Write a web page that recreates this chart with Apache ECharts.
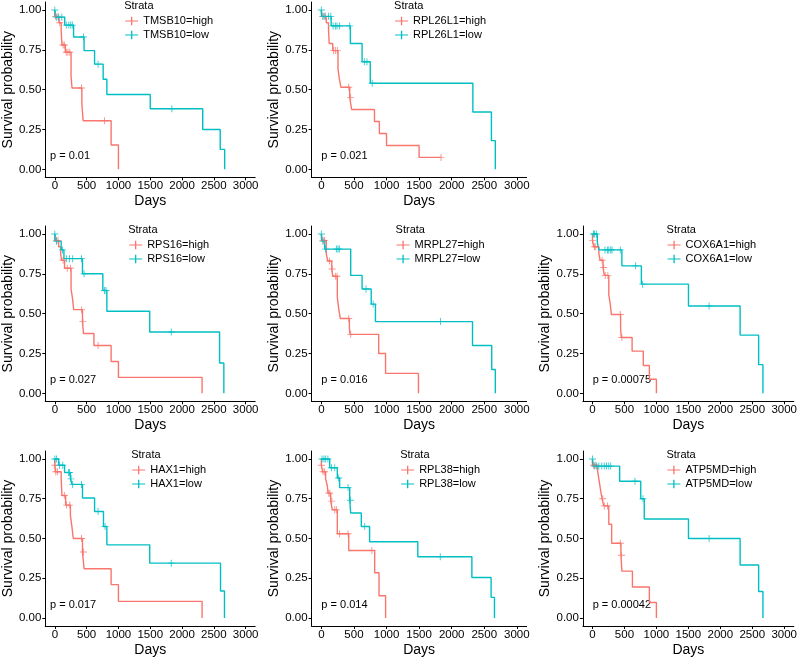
<!DOCTYPE html>
<html><head><meta charset="utf-8">
<script src="https://cdn.jsdelivr.net/npm/echarts@6/dist/echarts.min.js"></script>
<style>html,body{margin:0;padding:0;background:#fff}#c{width:800px;height:658px}</style>
</head><body><div id="c"></div>
<script>
// ---------------- DATA ----------------
const genes = ['TMSB10','RPL26L1','RPS16','MRPL27','COX6A1','HAX1','RPL38','ATP5MD'];
const pValues = ['p = 0.01','p = 0.021','p = 0.027','p = 0.016','p = 0.00075','p = 0.017','p = 0.014','p = 0.00042'];
const xTicks = [0,500,1000,1500,2000,2500,3000];
const yTicks = [0,0.25,0.5,0.75,1];

// events: [time (days), survival probability after the event]; cens: censoring times
const TMSB10_high = [[3,0.96],[65,0.92],[100,0.87],[112,0.78],[165,0.735],[255,0.585],[270,0.51],[425,0.41],[445,0.305],[885,0.153],[1000,0]];
const TMSB10_high_cens = [10,50,77,130,150,180,205,235,420,780];
const TMSB10_low = [[5,0.955],[155,0.905],[295,0.83],[460,0.745],[625,0.66],[760,0.565],[818,0.47],[1500,0.38],[2325,0.25],[2600,0.125],[2670,0]];
const TMSB10_low_cens = [0,25,60,110,180,220,250,275,450,680,1840];

const RPL26L1_high = [[3,0.96],[75,0.92],[110,0.875],[120,0.79],[175,0.745],[255,0.63],[275,0.57],[300,0.515],[435,0.45],[465,0.375],[815,0.30],[890,0.225],[1000,0.15],[1500,0.075]];
const RPL26L1_high_cens = [25,50,185,215,245,420,450,1837];
const RPL26L1_low = [[5,0.96],[150,0.90],[445,0.79],[625,0.675],[750,0.54],[2325,0.36],[2610,0.18],[2670,0]];
const RPL26L1_low_cens = [0,25,60,110,145,180,215,240,280,435,660,700,780];

const RPS16_high = [[3,0.96],[60,0.92],[92,0.875],[105,0.835],[153,0.785],[255,0.655],[280,0.59],[296,0.525],[435,0.45],[450,0.375],[615,0.30],[885,0.20],[1000,0.10],[2315,0]];
const RPS16_high_cens = [25,50,130,195,245,420,440,680];
const RPS16_low = [[5,0.955],[100,0.90],[143,0.845],[435,0.75],[755,0.645],[818,0.515],[1492,0.385],[2590,0.19],[2657,0]];
const RPS16_low_cens = [0,25,120,180,230,280,420,460,780,805,1830];

const MRPL27_high = [[3,0.96],[75,0.875],[100,0.83],[160,0.78],[175,0.735],[245,0.60],[265,0.535],[290,0.47],[430,0.41],[440,0.37],[880,0.25],[985,0.125],[1490,0]];
const MRPL27_high_cens = [25,50,125,165,215,240,420,450];
const MRPL27_low = [[10,0.955],[50,0.905],[450,0.74],[625,0.655],[765,0.56],[830,0.45],[2320,0.30],[2615,0.15],[2670,0]];
const MRPL27_low_cens = [0,25,65,230,255,275,685,795,1830];

const COX6A1_high = [[0,0.96],[20,0.92],[100,0.875],[120,0.835],[165,0.79],[185,0.74],[255,0.62],[280,0.555],[295,0.495],[440,0.41],[450,0.35],[620,0.265],[795,0.175],[890,0.088],[1000,0]];
const COX6A1_high_cens = [0,30,50,150,175,200,240,435,460];
const COX6A1_low = [[75,0.95],[100,0.90],[460,0.80],[765,0.685],[1502,0.548],[2310,0.365],[2600,0.18],[2667,0]];
const COX6A1_low_cens = [15,30,60,195,235,255,285,305,435,675,785,1825];

const HAX1_high = [[0,0.96],[10,0.92],[100,0.875],[112,0.77],[170,0.71],[245,0.645],[270,0.57],[290,0.50],[435,0.415],[460,0.31],[885,0.21],[1000,0.105],[2315,0]];
const HAX1_high_cens = [0,15,40,150,185,235,420,450];
const HAX1_low = [[60,0.96],[153,0.915],[245,0.875],[270,0.84],[435,0.755],[625,0.67],[765,0.575],[818,0.46],[1492,0.345],[2605,0.17],[2667,0]];
const HAX1_low_cens = [0,25,75,125,215,230,255,280,420,680,790,1830];

const RPL38_high = [[0,0.96],[20,0.92],[65,0.875],[92,0.83],[102,0.785],[143,0.735],[168,0.68],[245,0.53],[420,0.425],[818,0.285],[885,0.14],[986,0]];
const RPL38_high_cens = [0,25,50,115,130,160,205,230,280,410,775];
const RPL38_low = [[128,0.945],[245,0.88],[280,0.82],[435,0.74],[450,0.66],[613,0.575],[740,0.48],[1480,0.385],[2310,0.255],[2605,0.13],[2657,0]];
const RPL38_low_cens = [10,40,65,100,155,205,265,410,445,665,1825];

const ATP5MD_high = [[0,0.96],[80,0.925],[100,0.875],[128,0.80],[150,0.75],[175,0.705],[255,0.59],[300,0.47],[445,0.395],[460,0.295],[625,0.195],[890,0.098],[1000,0]];
const ATP5MD_high_cens = [15,50,160,185,235,435,455];
const ATP5MD_low = [[5,0.955],[425,0.86],[755,0.75],[810,0.623],[1502,0.50],[2310,0.333],[2600,0.167],[2667,0]];
const ATP5MD_low_cens = [0,30,65,100,145,185,220,255,285,665,790,1825];

const curves = {
  TMSB10:[TMSB10_high,TMSB10_high_cens,TMSB10_low,TMSB10_low_cens],
  RPL26L1:[RPL26L1_high,RPL26L1_high_cens,RPL26L1_low,RPL26L1_low_cens],
  RPS16:[RPS16_high,RPS16_high_cens,RPS16_low,RPS16_low_cens],
  MRPL27:[MRPL27_high,MRPL27_high_cens,MRPL27_low,MRPL27_low_cens],
  COX6A1:[COX6A1_high,COX6A1_high_cens,COX6A1_low,COX6A1_low_cens],
  HAX1:[HAX1_high,HAX1_high_cens,HAX1_low,HAX1_low_cens],
  RPL38:[RPL38_high,RPL38_high_cens,RPL38_low,RPL38_low_cens],
  ATP5MD:[ATP5MD_high,ATP5MD_high_cens,ATP5MD_low,ATP5MD_low_cens]
};

// ---------------- LAYOUT / STYLE ----------------
const FONT = '"Liberation Sans", Arial, Helvetica, sans-serif';
const RED = '#F8766D', CYAN = '#00BFC4';
const colLeft = [40.2, 311.6, 582.9];
const rowTop = [2, 226, 451];
const PW = 215, PH = 175.3;
const XMIN = -150, XMAX = 3150, YMIN = -0.05, YMAX = 1.05;
const cells = [[0,0],[1,0],[0,1],[1,1],[2,1],[0,2],[1,2],[2,2]];
const CROSS = 'path://M0,4.35H10V5.65H0Z M4.35,0H5.65V10H4.35Z';
const LEGEND_ICON = 'path://M0,4.4H13V5.6H0Z M5.85,0.8H7.15V9.2H5.85Z';

const ctx = document.createElement('canvas').getContext('2d');
ctx.font = '11px ' + FONT;
const tw = s => ctx.measureText(s).width;

function survAt(ev, t){ let s = 1; for (const [et, es] of ev) if (et <= t) s = es; return s; }
function stepData(ev, cens){
  const d = [[0,1]].concat(ev);
  const last = ev[ev.length-1];
  const mc = Math.max.apply(null, cens);
  if (mc > last[0]) d.push([mc, last[1]]);
  return d;
}

const grid = [], xAxis = [], yAxis = [], series = [], legend = [], graphic = [];
genes.forEach((g, i) => {
  const [c, r] = cells[i];
  const L = colLeft[c], T = rowTop[r];
  grid.push({left: L, top: T, width: PW, height: PH, containLabel: false});
  xAxis.push({
    gridIndex: i, type: 'value', min: XMIN, max: XMAX,
    axisLine: {onZero: false, lineStyle: {color: '#000', width: 1}},
    axisTick: {customValues: xTicks, length: 3, lineStyle: {color: '#000', width: 1}},
    axisLabel: {customValues: xTicks, fontSize: 11.5, color: '#000', margin: 3, fontFamily: FONT,
      formatter: v => String(Math.round(v))},
    splitLine: {show: false},
    name: 'Days', nameLocation: 'middle', nameGap: 17,
    nameTextStyle: {fontSize: 14, color: '#000', fontFamily: FONT}
  });
  yAxis.push({
    gridIndex: i, type: 'value', min: YMIN, max: YMAX,
    axisLine: {onZero: false, lineStyle: {color: '#000', width: 1}},
    axisTick: {customValues: yTicks, length: 3, lineStyle: {color: '#000', width: 1}},
    axisLabel: {customValues: yTicks, fontSize: 11.5, color: '#000', margin: 4, fontFamily: FONT,
      formatter: v => Number(v).toFixed(2)},
    splitLine: {show: false},
    name: 'Survival probability', nameLocation: 'middle', nameGap: 23, nameRotate: 90,
    nameTextStyle: {fontSize: 14, color: '#000', fontFamily: FONT}
  });
  const [hi, hiC, lo, loC] = curves[g];
  const nHi = g + '=high', nLo = g + '=low';
  [[nHi, hi, hiC, RED], [nLo, lo, loC, CYAN]].forEach(([name, ev, cens, col]) => {
    series.push({
      type: 'line', name, xAxisIndex: i, yAxisIndex: i, step: 'end',
      data: stepData(ev, cens), showSymbol: false, symbol: 'none',
      lineStyle: {color: col, width: 1.4}, itemStyle: {color: col},
      animation: false, z: 2
    });
    series.push({
      type: 'scatter', name: name + ' censored', xAxisIndex: i, yAxisIndex: i,
      data: cens.map(t => [t, survAt(ev, t)]), symbol: CROSS, symbolSize: 7,
      itemStyle: {color: col}, animation: false, z: 3
    });
  });
  // legend (centered at 0.6 of panel width)
  const boxW = Math.max(tw('Strata'), 19 + Math.max(tw(nHi), tw(nLo)));
  const sLeft = L + 128.5 - boxW / 2;
  legend.push({
    data: [nHi, nLo], orient: 'vertical', left: sLeft + 1, top: T + 12.5,
    padding: 0, itemGap: 1, itemWidth: 13, itemHeight: 9, icon: LEGEND_ICON,
    selectedMode: false,
    textStyle: {fontSize: 11, color: '#000', fontFamily: FONT, lineHeight: 13}
  });
  graphic.push({type: 'text', x: sLeft, y: T + 3.5, silent: true,
    style: {text: 'Strata', fontSize: 11, fontFamily: FONT, fill: '#000', align: 'left', verticalAlign: 'middle'}});
  // p-value at (t = 0, S = 0.085)
  const px = L + (0 - XMIN) / (XMAX - XMIN) * PW;
  const py = T + (YMAX - 0.085) / (YMAX - YMIN) * PH;
  graphic.push({type: 'text', x: px, y: py, silent: true,
    style: {text: pValues[i], fontSize: 11, fontFamily: FONT, fill: '#000', align: 'left', verticalAlign: 'middle'}});
});

const chart = echarts.init(document.getElementById('c'), null, {renderer: 'canvas'});
chart.setOption({
  animation: false,
  backgroundColor: '#fff',
  textStyle: {fontFamily: FONT},
  grid, xAxis, yAxis, series, legend, graphic
});
</script></body></html>
